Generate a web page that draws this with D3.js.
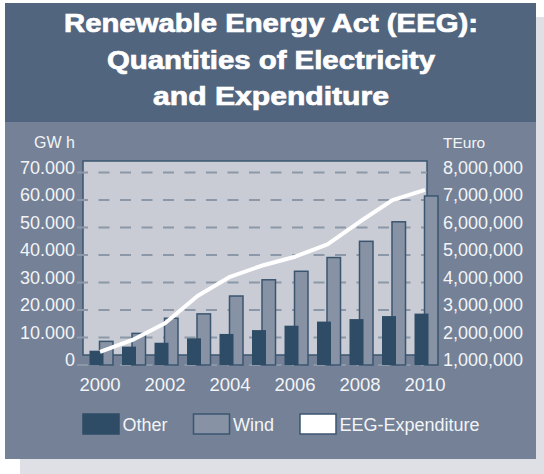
<!DOCTYPE html>
<html>
<head>
<meta charset="utf-8">
<script src="https://cdn.jsdelivr.net/npm/d3@7/dist/d3.min.js"></script>
<style>
  html, body { margin: 0; padding: 0; background: #ffffff; }
  svg { display: block; }
  text { font-family: "Liberation Sans", Arial, sans-serif; }
</style>
</head>
<body>
<div id="chart"></div>
<script>
// ---- data ----
const years = [2000, 2001, 2002, 2003, 2004, 2005, 2006, 2007, 2008, 2009, 2010];
const otherGWh = [5200, 6700, 8100, 9700, 11300, 12700, 14300, 15800, 16700, 17800, 18700];
const windGWh = [8600, 11500, 17000, 18600, 25100, 31000, 34100, 39100, 45000, 52100, 61500];
const eegTEuro = [1480000, 1910000, 2520000, 3510000, 4210000, 4620000, 4940000, 5390000, 6220000, 7000000, 7370000];
const leftTicks = [0, 10000, 20000, 30000, 40000, 50000, 60000, 70000];
const leftTickLabels = ["0", "10.000", "20.000", "30.000", "40.000", "50.000", "60.000", "70.000"];
const rightTicks = [1000000, 2000000, 3000000, 4000000, 5000000, 6000000, 7000000, 8000000];
const rightTickLabels = ["1,000,000", "2,000,000", "3,000,000", "4,000,000", "5,000,000", "6,000,000", "7,000,000", "8,000,000"];
const xTickYears = [2000, 2002, 2004, 2006, 2008, 2010];
const titleLines = ["Renewable Energy Act (EEG):", "Quantities of Electricity", "and Expenditure"];
const legendItems = ["Other", "Wind", "EEG-Expenditure"];

// ---- colours ----
const C = {
  shadow: "#dfe0e5",
  title: "#52657e",
  panel: "#748196",
  wall: "#c9ccd5",
  border: "#3b5570",
  grid: "#8c97a8",
  other: "#2f4c66",
  wind: "#8793a5",
  text: "#f3f4f6"
};

const W = 544, H = 474;
const svg = d3.select("#chart").append("svg").attr("width", W).attr("height", H);

// shadow + panels
svg.append("rect").attr("x", 20).attr("y", 17).attr("width", 524).attr("height", 457).attr("fill", C.shadow);
svg.append("rect").attr("x", 5).attr("y", 3).attr("width", 531).attr("height", 456).attr("fill", C.panel);
svg.append("rect").attr("x", 5).attr("y", 3).attr("width", 531).attr("height", 119).attr("fill", C.title);

// title
const titleY = [32, 68.5, 105];
const titleLen = [414, 328, 236];
titleLines.forEach((t, i) => {
  svg.append("text").attr("x", 271).attr("y", titleY[i])
    .attr("text-anchor", "middle").attr("fill", "#ffffff")
    .attr("stroke", "#ffffff").attr("stroke-width", 0.7)
    .attr("font-weight", "bold").attr("font-size", 25)
    .attr("textLength", titleLen[i]).attr("lengthAdjust", "spacingAndGlyphs")
    .text(t);
});

// scales
const x = d3.scalePoint().domain(years).range([100, 425]);
const yL = d3.scaleLinear().domain([0, 70000]).range([365, 172.6]);
const yR = d3.scaleLinear().domain([1000000, 8000000]).range([365, 172.6]);

// back wall
svg.append("rect").attr("x", 83).attr("y", 161).attr("width", 344).attr("height", 194)
  .attr("fill", C.wall).attr("stroke", C.border).attr("stroke-width", 1.5);

// gridlines
svg.append("g").selectAll("line").data(leftTicks).join("line")
  .attr("x1", 77).attr("x2", 427)
  .attr("y1", d => yL(d)).attr("y2", d => yL(d))
  .attr("stroke", C.grid).attr("stroke-width", 2)
  .attr("stroke-dasharray", "11,10.5");

// left axis labels
const lAxis = svg.append("g");
lAxis.selectAll("text").data(leftTicks).join("text")
  .attr("x", 75).attr("y", d => yL(d) + 1.3)
  .attr("text-anchor", "end").attr("fill", C.text).attr("font-size", 18)
  .text((d, i) => leftTickLabels[i]);
svg.append("text").attr("x", 75).attr("y", 148).attr("text-anchor", "end")
  .attr("fill", C.text).attr("font-size", 16).text("GW h");

// right axis labels
const rAxis = svg.append("g");
rAxis.selectAll("text").data(rightTicks).join("text")
  .attr("x", 443).attr("y", d => yR(d) + 1.3)
  .attr("text-anchor", "start").attr("fill", C.text).attr("font-size", 18)
  .text((d, i) => rightTickLabels[i]);
svg.append("text").attr("x", 443).attr("y", 148).attr("text-anchor", "start")
  .attr("fill", C.text).attr("font-size", 15.5).text("TEuro");

// bars: wind behind, other in front
svg.append("g").selectAll("rect").data(years).join("rect")
  .attr("x", d => x(d) - 0.5).attr("width", 13.5)
  .attr("y", (d, i) => yL(windGWh[i])).attr("height", (d, i) => yL(0) - yL(windGWh[i]))
  .attr("fill", C.wind).attr("stroke", C.border).attr("stroke-width", 1.5);
svg.append("g").selectAll("rect").data(years).join("rect")
  .attr("x", d => x(d) - 10.5).attr("width", 14)
  .attr("y", (d, i) => yL(otherGWh[i])).attr("height", (d, i) => yL(0) - yL(otherGWh[i]))
  .attr("fill", C.other);

// EEG line
const line = d3.line().x((d, i) => x(years[i])).y(d => yR(d));
svg.append("path").datum(eegTEuro).attr("d", line)
  .attr("fill", "none").attr("stroke", "#ffffff").attr("stroke-width", 4)
  .attr("stroke-linejoin", "round");

// x labels
svg.append("g").selectAll("text").data(xTickYears).join("text")
  .attr("x", d => x(d)).attr("y", 391)
  .attr("text-anchor", "middle").attr("fill", C.text).attr("font-size", 18.5)
  .text(d => d);

// legend
const legX = [83, 193.5, 300];
const legFill = [C.other, C.wind, "#ffffff"];
const legStroke = [C.other, C.border, C.border];
legendItems.forEach((t, i) => {
  svg.append("rect").attr("x", legX[i]).attr("y", 414).attr("width", 36).attr("height", 20)
    .attr("fill", legFill[i]).attr("stroke", legStroke[i]).attr("stroke-width", 1.5);
  svg.append("text").attr("x", legX[i] + 39.5).attr("y", 430.5)
    .attr("fill", C.text).attr("font-size", 18).text(t);
});
</script>
</body>
</html>
